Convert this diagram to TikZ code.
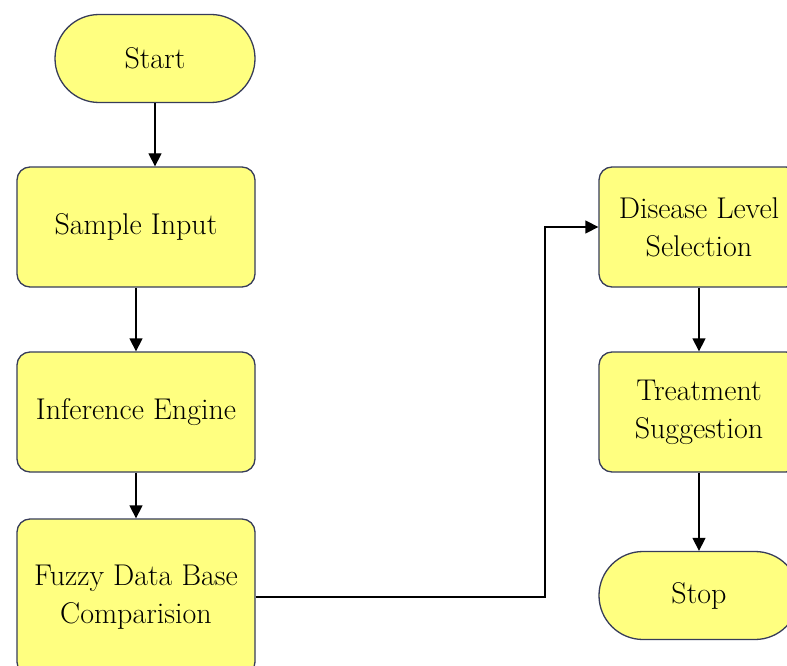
\documentclass[tikz,border=0pt]{standalone}
\usepackage{fontspec}
\usetikzlibrary{arrows.meta}
\definecolor{boxfill}{RGB}{255,255,128}
\definecolor{boxline}{RGB}{55,60,90}
\begin{document}
\begin{tikzpicture}[x=1pt,y=-1pt,
  base/.style={draw=boxline,line width=1.3pt,fill=boxfill,inner sep=0pt,align=center,
    font=\fontsize{30}{38}\selectfont,text=black},
  procbox/.style={base,rounded corners=13pt,minimum width=238pt},
  rightbox/.style={base,rounded corners=13pt,minimum width=200pt},
  term/.style={base,rounded corners=44pt,minimum width=200pt,minimum height=88pt},
  conn/.style={line width=1.3pt,-{Triangle[length=13pt,width=13pt]}}]
\useasboundingbox (0,0) rectangle (787,666);
\clip (0,0) rectangle (787,666);
\fill[white] (0,0) rectangle (787,666);
\node[term] (start) at (155,58.5) {Start};
\node[procbox,minimum height=120pt] (sample) at (136,227) {Sample Input};
\node[procbox,minimum height=120pt] (infer) at (136,412) {Inference Engine};
\node[procbox,minimum height=156pt] (fuzzy) at (136,597) {Fuzzy Data Base\\Comparision};
\node[rightbox,minimum height=120pt] (disease) at (699,227) {Disease Level\\Selection};
\node[rightbox,minimum height=120pt] (treat) at (699,412) {Treatment\\Suggestion};
\node[term] (stop) at (699,595.5) {Stop};
\coordinate (bend) at (545,0);
\draw[conn] (start.south) -- (start.south |- sample.north);
\draw[conn] (sample) -- (infer);
\draw[conn] (infer) -- (fuzzy);
\draw[conn] (fuzzy.east) -- (bend |- fuzzy.east) -- (bend |- disease.west) -- (disease.west);
\draw[conn] (disease) -- (treat);
\draw[conn] (treat) -- (stop);
\end{tikzpicture}
\end{document}
